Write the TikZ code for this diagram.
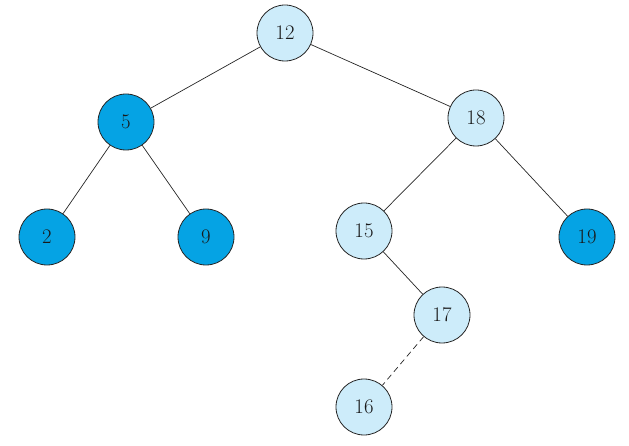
\documentclass[tikz,border=0pt]{standalone}
\usepackage{fontspec}
\usetikzlibrary{positioning}

\definecolor{lightnode}{RGB}{205,236,250}
\definecolor{darknode}{RGB}{5,163,228}

\begin{document}
\begin{tikzpicture}[
    x=1pt, y=-1pt,
    edge/.style={draw=black!85, line width=0.7pt},
]

% --- Style definitions ---
\tikzset{
    keynode/.style = {circle, draw=black!85, line width=0.8pt, minimum size=56pt,
        inner sep=0pt, font=\huge, text=black!90},
    light/.style = {keynode, fill=lightnode},
    dark/.style = {keynode, fill=darknode},
}

\useasboundingbox (0,0) rectangle (629,446);

% --- Root ---
\node (n12) [light] at (285,33) {12};

% --- Level 1 ---
\node (n5) [dark] at (126,122) {5};
\node (n18) [light] at (476,118) {18};

% --- Level 2 ---
\node (n2) [dark] at (47,237) {2};
\node (n9) [dark] at (206,237) {9};
\node (n15) [light] at (364,231) {15};
\node (n19) [dark] at (587,237) {19};

% --- Level 3 and 4 ---
\node (n17) [light] at (442,315) {17};
\node (n16) [light] at (364,407) {16};

% --- Edges ---
\draw [edge] (n12) -- (n5);
\draw [edge] (n12) -- (n18);
\draw [edge] (n5) -- (n2);
\draw [edge] (n5) -- (n9);
\draw [edge] (n18) -- (n15);
\draw [edge] (n18) -- (n19);
\draw [edge] (n15) -- (n17);
\draw [edge, dash pattern=on 6pt off 4pt] (n17) -- (n16);

\end{tikzpicture}
\end{document}
